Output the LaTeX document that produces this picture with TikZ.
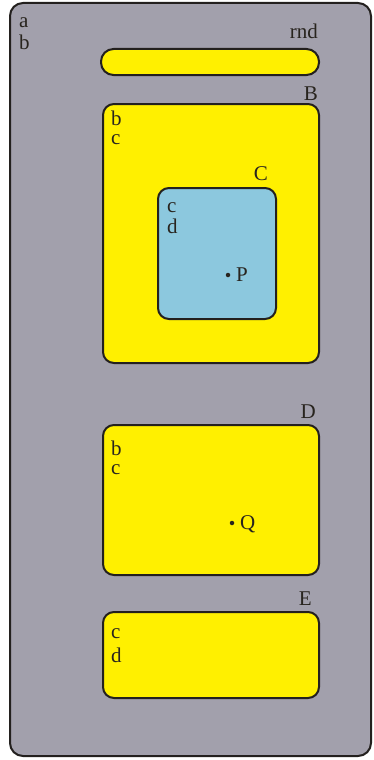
\documentclass[tikz,border=0pt]{standalone}
\usepackage{fontspec}
\setmainfont{Liberation Serif}
\definecolor{bggray}{RGB}{162,160,172}
\definecolor{boxyellow}{RGB}{255,240,0}
\definecolor{boxblue}{RGB}{140,200,222}
\definecolor{edge}{RGB}{35,32,30}
\definecolor{ink}{RGB}{40,36,30}
\begin{document}
\begin{tikzpicture}[x=1pt,y=-1pt,
  region/.style={draw=edge, line width=2pt, rounded corners=11pt, inner sep=0pt},
  lab/.style={font=\fontsize{21}{21}\selectfont, text=ink, inner sep=0pt, anchor=base west},
  rlab/.style={font=\fontsize{21}{21}\selectfont, text=ink, inner sep=0pt, anchor=base east},
  pair/.style={font=\fontsize{21}{#1}\selectfont, text=ink, inner sep=0pt, anchor=base west, align=left},
  pt/.style={circle, fill=ink, inner sep=0pt, minimum size=4.5pt}]
\useasboundingbox (0,0) rectangle (374,760);
\fill[white] (0,0) rectangle (374,760);
% outer universe
\node[region, fill=bggray, rounded corners=13pt, minimum width=361pt, minimum height=753pt] (U) at (190.5,379.5) {};
\node[pair=21] (lab) at (19,49) {a\\b};
% rnd bar
\node[region, fill=boxyellow, rounded corners=12.5pt, minimum width=218pt, minimum height=26pt] (R) at (210,62) {};
\node[rlab] (lrnd) at (318,39) {rnd};
% B
\node[region, fill=boxyellow, minimum width=216pt, minimum height=259pt] (B) at (211,233.5) {};
\node[rlab] (lB) at (318,100) {B};
\node[pair=18.5] (Bbc) at (111,144) {b\\c};
% C
\node[region, fill=boxblue, minimum width=118pt, minimum height=131pt] (C) at (217,253.5) {};
\node[rlab] (lC) at (268,180) {C};
\node[pair=21] (Ccd) at (167,233) {c\\d};
\node[pt] (P) at (228,275) {};
\node[lab] (lP) at (236,281) {P};
% D
\node[region, fill=boxyellow, minimum width=216pt, minimum height=150pt] (D) at (211,500) {};
\node[rlab] (lD) at (316,418) {D};
\node[pair=18.5] (Dbc) at (111,474) {b\\c};
\node[pt] (Q) at (232,523) {};
\node[lab] (lQ) at (240,529) {Q};
% E
\node[region, fill=boxyellow, minimum width=216pt, minimum height=86pt] (E) at (211,655) {};
\node[rlab] (lE) at (312,605) {E};
\node[pair=24] (Ecd) at (111,662) {c\\d};
\end{tikzpicture}
\end{document}
